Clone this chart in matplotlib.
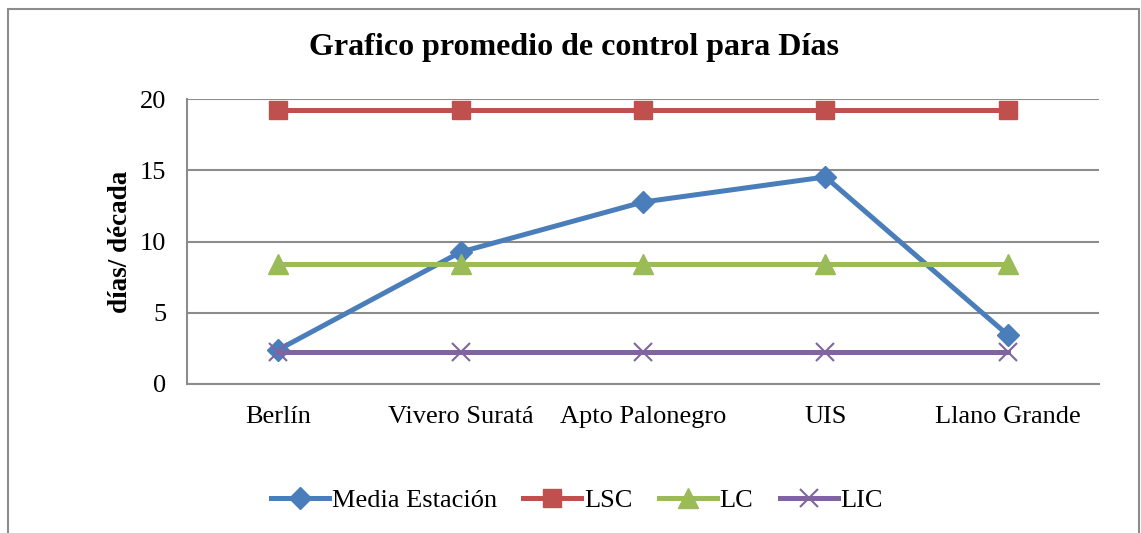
import matplotlib
matplotlib.use("Agg")
import matplotlib.pyplot as plt
from matplotlib.patches import Rectangle

# data
estaciones = ["Berlín", "Vivero Suratá", "Apto Palonegro", "UIS", "Llano Grande"]
media = [2.4, 9.26, 12.77, 14.53, 3.44]
lsc = [19.2, 19.2, 19.2, 19.2, 19.2]
lc = [8.45, 8.45, 8.45, 8.45, 8.45]
lic = [2.25, 2.25, 2.25, 2.25, 2.25]
yticks = [0, 5, 10, 15, 20]

W, H = 1141, 533
plt.rcParams['font.family'] = ['Liberation Serif', 'DejaVu Serif']

fig = plt.figure(figsize=(W / 100, H / 100), dpi=100)

# outer chart frame (bottom edge is cut off in the reference)
frame = Rectangle((8 / W, -0.05), (1139 - 8) / W, 1.05 - 9 / H,
                  transform=fig.transFigure, fill=False,
                  edgecolor="#8c8c8c", linewidth=1.5)
fig.patches.append(frame)

# plot area in pixel coordinates: left 187, right 1099, top 99, bottom 384
ax = fig.add_axes([187 / W, 1 - 384 / H, (1099 - 187) / W, (384 - 99) / H])

x = list(range(len(estaciones)))
ax.plot(x, media, color="#4a7ebb", lw=3.6, marker="D", ms=11, label="Media Estación", zorder=3)
ax.plot(x, lsc, color="#c0504d", lw=3.6, marker="s", ms=13, label="LSC", zorder=4)
ax.plot(x, lc, color="#9bbb59", lw=3.6, marker="^", ms=14, label="LC", zorder=5)
ax.plot(x, lic, color="#8064a2", lw=3.6, marker="x", ms=13, mew=1.5, label="LIC", zorder=6)

ax.set_xlim(-0.5, len(estaciones) - 0.5)
ax.set_ylim(0, 20)
ax.set_yticks(yticks)
ax.set_xticks(x)
ax.set_xticklabels(estaciones)
ax.tick_params(axis="both", length=0, labelsize=19)
ax.tick_params(axis="y", pad=15)
ax.tick_params(axis="x", pad=16)
ax.yaxis.grid(True, color="#8c8c8c", lw=1.5)
ax.set_axisbelow(True)
for s in ["top", "right"]:
    ax.spines[s].set_visible(False)
for s in ["left", "bottom"]:
    ax.spines[s].set_color("#8c8c8c")
    ax.spines[s].set_linewidth(1.5)

ax.set_ylabel("días/ década", fontsize=19.5, fontweight="bold", labelpad=5)

fig.text(574 / W, 1 - 48 / H, "Grafico promedio de control para Días",
         ha="center", va="center", fontsize=23, fontweight="bold")

fig.legend(loc="center", bbox_to_anchor=(577 / W, 1 - 500 / H), ncol=4,
           frameon=False, fontsize=19, handlelength=2.2, handletextpad=0.1,
           columnspacing=1.0)

fig.savefig("out.png", dpi=100, facecolor="white")
